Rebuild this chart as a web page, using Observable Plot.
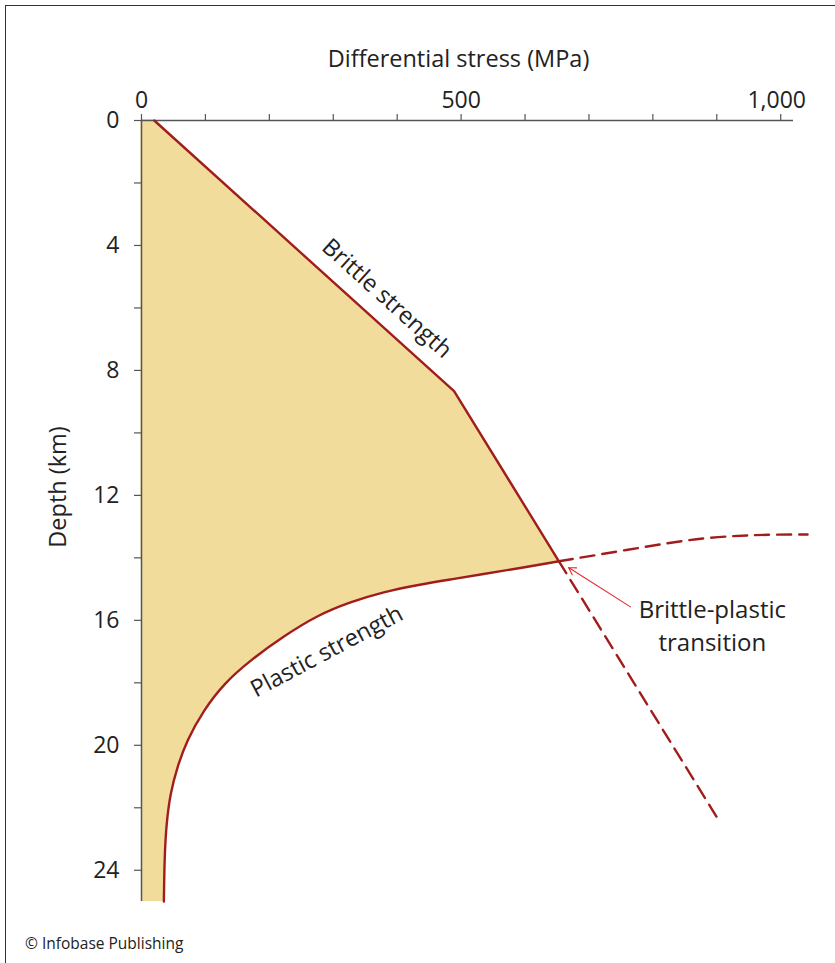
<!DOCTYPE html>
<html>
<head>
<meta charset="utf-8">
<script src="https://cdn.jsdelivr.net/npm/d3@7"></script>
<script src="https://cdn.jsdelivr.net/npm/@observablehq/plot@0.6"></script>
<style>
  body { margin: 0; background: #fff; }
  #wrap { position: relative; width: 835px; height: 963px; overflow: hidden; }
  #border { position: absolute; left: 5px; top: 5px; width: 900px; height: 1000px;
            border-left: 1.5px solid #333; border-top: 1.5px solid #333; pointer-events: none; }
  #caption { position: absolute; left: 25px; top: 932px; font-family: "Open Sans", sans-serif;
             font-size: 15.5px; color: #222; }
</style>
</head>
<body>
<div id="wrap">
  <div id="chart"></div>
  <div id="border"></div>
  <div id="caption">© Infobase Publishing</div>
</div>
<script>
// Brittle strength (solid) and its dashed extension
const brittleStress = [20, 489, 653];
const brittleDepth = [0, 8.66, 14.11];
const brittleExtStress = [653, 903];
const brittleExtDepth = [14.11, 22.4];
// Plastic strength (solid), ordered by depth, and its dashed extension
const plasticStress = [653, 588, 535, 483, 431, 379, 327, 275, 223, 170, 129, 97, 71, 56, 45, 39, 36, 35];
const plasticDepth = [14.11, 14.34, 14.52, 14.69, 14.87, 15.09, 15.41, 15.84, 16.5, 17.28, 18.02, 18.88, 19.84, 20.69, 21.54, 22.5, 23.57, 25];
const plasticExtStress = [653, 781, 885, 989, 1042];
const plasticExtDepth = [14.11, 13.67, 13.32, 13.25, 13.25];
// Axis ticks
const xTicks = [0, 100, 200, 300, 400, 500, 600, 700, 800, 900, 1000];
const xTickLabels = [0, 500];
const xTickLabelsRight = [1000];
const yTicks = [0, 2, 4, 6, 8, 10, 12, 14, 16, 18, 20, 22, 24];
const yTickLabels = [0, 4, 8, 12, 16, 20, 24];

const zip = (xs, ys) => xs.map((x, i) => ({x, y: ys[i]}));
const brittle = zip(brittleStress, brittleDepth);
const brittleExt = zip(brittleExtStress, brittleExtDepth);
const plastic = zip(plasticStress, plasticDepth);
const plasticExt = zip(plasticExtStress, plasticExtDepth);

const RED = "#a11d1c";
const FILL = "#f1dc9c";
const AXIS = "#555";
const INK = "#222";
const FONT = "Open Sans, sans-serif";

const chart = Plot.plot({
  width: 835,
  height: 963,
  marginLeft: 141,
  marginRight: 42,
  marginTop: 120,
  marginBottom: 62,
  style: {fontFamily: FONT, fontSize: "20px", color: INK, background: "white"},
  x: {domain: [0, 1020], axis: null},
  y: {domain: [0, 25], reverse: true, axis: null},
  marks: [
    Plot.areaX(brittle, {y: "y", x1: 0, x2: "x", fill: FILL, stroke: FILL, strokeWidth: 1}),
    Plot.areaX(plastic, {y: "y", x1: 0, x2: "x", fill: FILL, curve: "basis"}),
    // axes lines
    Plot.ruleY([0], {x1: 0, x2: 1020, stroke: AXIS, strokeWidth: 1.5}),
    Plot.ruleX([0], {y1: 0, y2: 25, stroke: AXIS, strokeWidth: 1.5}),
    // x ticks (top)
    Plot.axisX({anchor: "top", ticks: xTicks, tickSize: 7, tickFormat: () => "", stroke: AXIS, strokeWidth: 1.2}),
    Plot.axisX({anchor: "top", ticks: xTickLabels, tickSize: 0, tickPadding: 13, fontSize: 23, label: null, tickFormat: d3.format(","), fill: INK}),
    Plot.axisX({anchor: "top", ticks: xTickLabelsRight, tickSize: 0, tickPadding: 13, fontSize: 23, label: null, tickFormat: d3.format(","), dx: -4, fill: INK}),
    // y ticks (left)
    Plot.axisY({anchor: "left", ticks: yTicks, tickSize: 7, tickFormat: () => "", stroke: AXIS, strokeWidth: 1.2}),
    Plot.axisY({anchor: "left", ticks: yTickLabels, tickSize: 0, tickPadding: 22, fontSize: 23, label: null, fill: INK}),
    // lines
    Plot.line(brittle, {x: "x", y: "y", stroke: RED, strokeWidth: 2.4}),
    Plot.line(plastic, {x: "x", y: "y", stroke: RED, strokeWidth: 2.4, curve: "basis"}),
    Plot.line(brittleExt, {x: "x", y: "y", stroke: RED, strokeWidth: 2.4, strokeDasharray: "14,8"}),
    Plot.line(plasticExt, {x: "x", y: "y", stroke: RED, strokeWidth: 2.4, strokeDasharray: "14,8", curve: "basis"}),
    // axis titles
    Plot.text(["Differential stress (MPa)"], {frameAnchor: "top", lineAnchor: "middle", dx: -9, dy: -61, fontSize: 23.5, fill: INK}),
    Plot.text(["Depth (km)"], {frameAnchor: "left", textAnchor: "middle", lineAnchor: "middle", dx: -83, dy: -24, rotate: -90, fontSize: 23.5, fill: INK}),
    // curve labels
    Plot.text(["Brittle strength"], {x: 384, y: 5.7, rotate: 42, fontSize: 23.5, fill: INK}),
    Plot.text(["Plastic strength"], {x: 290, y: 17.0, rotate: -28, fontSize: 23.5, fill: INK}),
    Plot.text(["Brittle-plastic\ntransition"], {x: 893, y: 16.1, fontSize: 24, lineHeight: 1.38, fill: INK}),
    Plot.arrow([{x1: 765, y1: 15.57, x2: 668, y2: 14.31}], {x1: "x1", y1: "y1", x2: "x2", y2: "y2", stroke: "#e8262b", strokeWidth: 1.1, headLength: 11})
  ]
});
document.getElementById("chart").appendChild(chart);
</script>
</body>
</html>
